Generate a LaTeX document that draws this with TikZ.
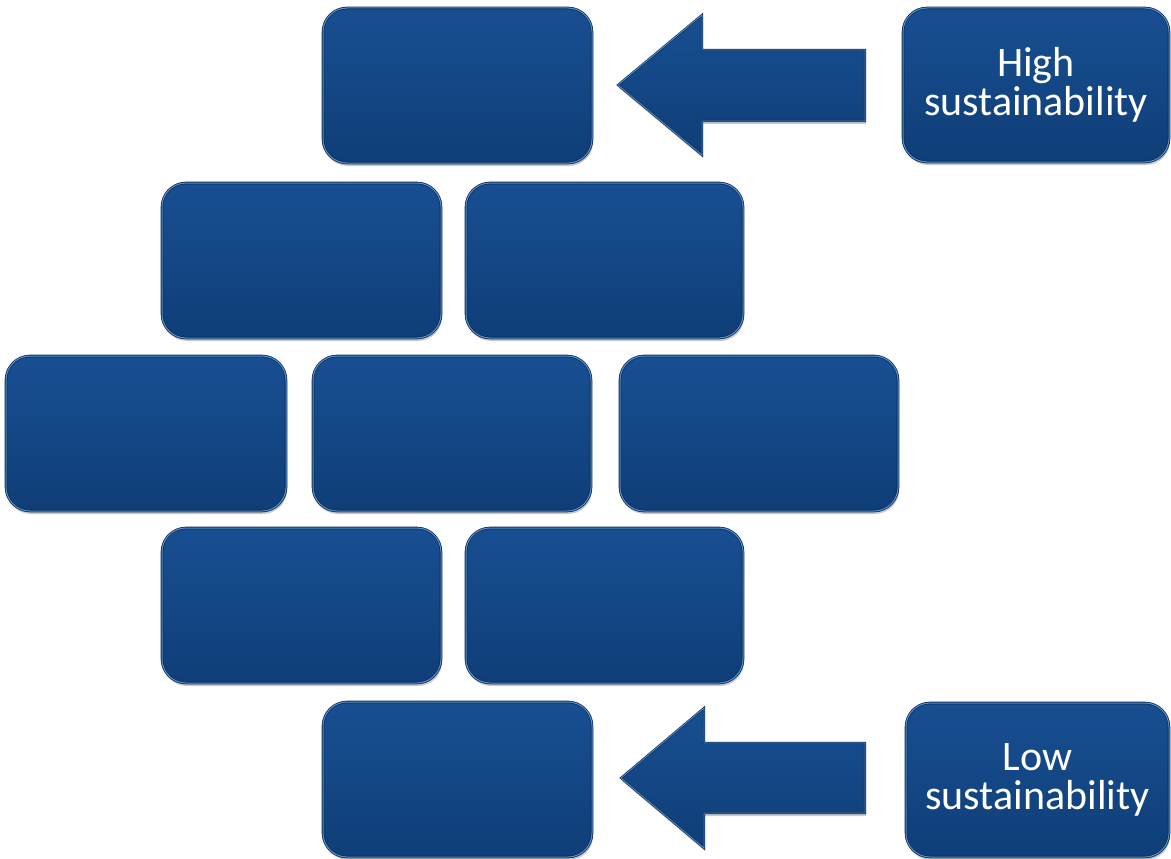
\documentclass[tikz,border=0pt]{standalone}
\usepackage{fontspec}
\setmainfont{Carlito}
\usetikzlibrary{shadows}
\definecolor{btop}{HTML}{184F92}
\definecolor{bbot}{HTML}{0F3E77}
\definecolor{bedge}{HTML}{0B2E5A}
\definecolor{bhi}{HTML}{5A8FCC}
\begin{document}
\begin{tikzpicture}[x=1pt,y=-1pt,
  brick/.style={rectangle,rounded corners=24pt,minimum width=277pt,minimum height=155pt,
    top color=btop,bottom color=bbot,draw=bedge,double=bhi,double distance=1pt,line width=0.8pt,
    drop shadow={shadow xshift=1pt,shadow yshift=-3pt,opacity=0.35,fill=black!60}},
  label/.style={brick,text=white,font=\fontsize{42}{39}\selectfont,align=center,inner sep=0pt},
  blockarrow/.style={top color=btop,bottom color=bbot,draw=bedge,double=bhi,double distance=0.8pt,line width=0.7pt,
    drop shadow={shadow xshift=1pt,shadow yshift=-3pt,opacity=0.35,fill=black!60}}
]
\useasboundingbox (0,0) rectangle (1171,859);
\fill[white] (0,0) rectangle (1171,859);
% bricks
\node[brick,minimum width=269pt] (b1) at (457.5,85.5) {};
\node[brick,minimum width=279pt] (b21) at (301.5,260.5) {};
\node[brick] (b22) at (604.5,260.5) {};
\node[brick,minimum width=280pt] (b31) at (146,433.5) {};
\node[brick,minimum width=278pt] (b32) at (452,433.5) {};
\node[brick,minimum width=278pt] (b33) at (759,433.5) {};
\node[brick,minimum width=279pt] (b41) at (301.5,605.5) {};
\node[brick] (b42) at (604.5,605.5) {};
\node[brick,minimum width=269pt] (b5) at (457.5,779.5) {};
% labels
\node[label,minimum width=266pt,minimum height=154pt] (high) at (1036,85) {High\\sustainability};
\node[label,minimum width=263pt,minimum height=154pt] (low) at (1037.5,780) {Low\\sustainability};
% block arrows
\path[blockarrow] (865,50) -- (702,50) -- (702,15) -- (618,85) -- (702,155) -- (702,121) -- (865,121) -- cycle;
\path[blockarrow] (865,743) -- (704,743) -- (704,708) -- (621,778) -- (704,848) -- (704,813) -- (865,813) -- cycle;
\end{tikzpicture}
\end{document}
